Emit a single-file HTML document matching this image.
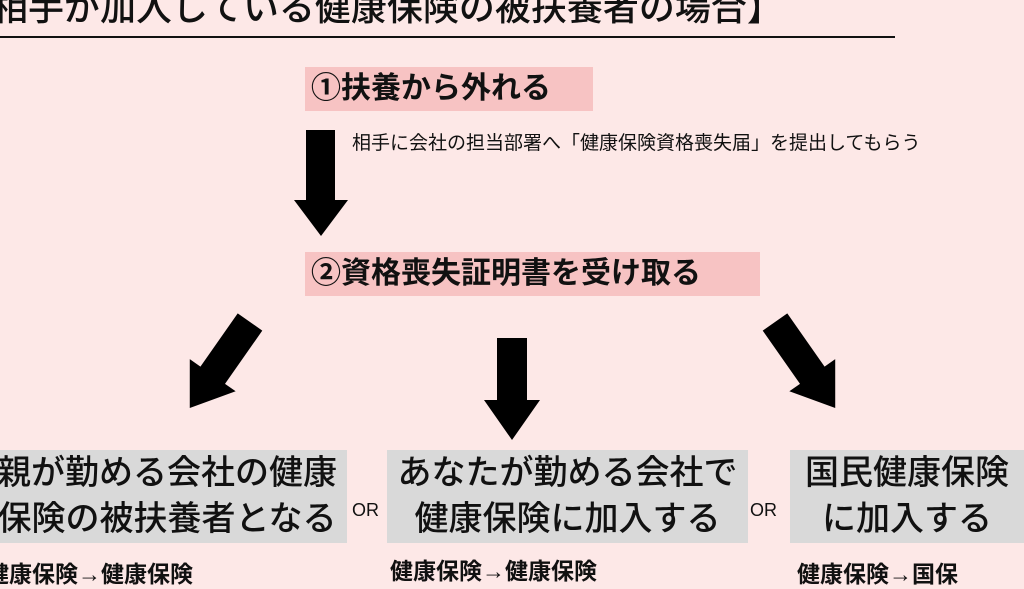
<!DOCTYPE html>
<html><head><meta charset="utf-8"><style>
body{margin:0;width:1024px;height:576px;overflow:hidden;background:#fde8e7;position:relative;font-family:"Liberation Sans","Noto Sans CJK JP",sans-serif;color:#111}
.a{position:absolute;white-space:nowrap}
.pk{background:#f7c3c3;font-weight:bold;font-size:30px;line-height:44px;padding:0 6px}
.gb{background:#d9d9d9;font-size:34px;line-height:46px;text-align:center;font-weight:500}
</style></head><body>
<div class="a" style="left:-8px;top:-14px;font-size:36px;font-weight:500;line-height:44px">相手が加入している健康保険の被扶養者の場合】</div>
<div class="a" style="left:0;top:36px;width:895px;height:2px;background:#111"></div>
<div class="a pk" style="left:305px;top:67px;width:276px">①扶養から外れる</div>
<div class="a" style="left:352px;top:132px;font-size:19px;line-height:24px">相手に会社の担当部署へ「健康保険資格喪失届」を提出してもらう</div>
<div class="a pk" style="left:305px;top:252px;width:443px">②資格喪失証明書を受け取る</div>
<svg class="a" style="left:0;top:0" width="1024" height="576">
<polygon points="306,130 335,130 335,200 348,200 321,236 294,200 306,200" fill="#000"/>
<polygon points="497,338 527,338 527,400 540,400 512,440 484,400 497,400" fill="#000"/>
<g transform="translate(250,322) rotate(35)"><polygon points="-15,0 15,0 15,65 28,65 0,105 -28,65 -15,65" fill="#000"/></g>
<g transform="translate(775,322) rotate(-35)"><polygon points="-15,0 15,0 15,65 28,65 0,105 -28,65 -15,65" fill="#000"/></g>
</svg>
<div class="a gb" style="left:0;top:450px;width:347px;height:93px;overflow:hidden"><div style="position:absolute;right:10px;top:0">親が勤める会社の健康<br>保険の被扶養者となる</div></div>
<div class="a gb" style="left:387px;top:450px;width:361px;height:93px">あなたが勤める会社で<br>健康保険に加入する</div>
<div class="a gb" style="left:790px;top:450px;width:234px;height:93px">国民健康保険<br>に加入する</div>
<div class="a" style="left:352px;top:500px;font-size:18px">OR</div>
<div class="a" style="left:750px;top:500px;font-size:18px">OR</div>
<div class="a" style="left:-14px;top:555px;font-size:23px;font-weight:bold">健康保険→健康保険</div>
<div class="a" style="left:390px;top:552px;font-size:23px;font-weight:bold">健康保険→健康保険</div>
<div class="a" style="left:797px;top:555px;font-size:23px;font-weight:bold">健康保険→国保</div>
</body></html>
